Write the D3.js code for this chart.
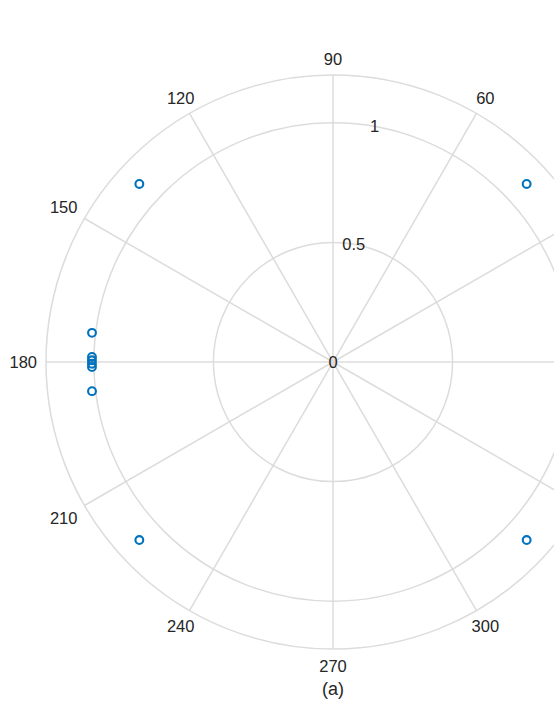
<!DOCTYPE html>
<html>
<head>
<meta charset="utf-8">
<script src="https://cdn.jsdelivr.net/npm/d3@7/dist/d3.min.js"></script>
<style>
  body { margin: 0; background: #fff; }
  text { font-family: "Liberation Sans", Arial, Helvetica, sans-serif; fill: #262626; }
</style>
</head>
<body>
<div id="polar-chart"></div>
<script>
// data points (angle in degrees, radius)
const thetaDeg = [42.6, 137.4, 173.1, 178.8, 179.6, 180.4, 181.2, 186.9, 222.6, 317.4];
const rValues = [1.1, 1.1, 1.015, 1.008, 1.008, 1.008, 1.008, 1.015, 1.1, 1.1];

// axis ticks
const angleTicks = [0, 30, 60, 90, 120, 150, 180, 210, 240, 270, 300, 330];
const rTicks = [0, 0.5, 1];
const rMax = 1.2;
const rLabelAngle = 80;
const caption = "(a)";

const width = 554;
const height = 717;
const cx = 333;
const cy = 362;
const outerR = 287;

const svg = d3
  .select("#polar-chart")
  .append("svg")
  .attr("width", width)
  .attr("height", height);

const g = svg.append("g").attr("transform", `translate(${cx},${cy})`);

const rScale = d3.scaleLinear().domain([0, rMax]).range([0, outerR]);
const toRad = (d) => (d * Math.PI) / 180;
const px = (a, r) => Math.cos(toRad(a)) * r;
const py = (a, r) => -Math.sin(toRad(a)) * r;

const gridColor = "#dcdcdc";

// rings
g.selectAll(".ring")
  .data(rTicks.filter((d) => d > 0).concat([rMax]))
  .enter()
  .append("circle")
  .attr("class", "ring")
  .attr("r", (d) => rScale(d))
  .attr("fill", "none")
  .attr("stroke", gridColor)
  .attr("stroke-width", 1.5);

// spokes
g.selectAll(".spoke")
  .data(angleTicks)
  .enter()
  .append("line")
  .attr("class", "spoke")
  .attr("x1", 0)
  .attr("y1", 0)
  .attr("x2", (d) => px(d, outerR))
  .attr("y2", (d) => py(d, outerR))
  .attr("stroke", gridColor)
  .attr("stroke-width", 1.5);

// angle labels, pushed out so the text box clears the circle
const fontSize = 16.5;
g.selectAll(".theta-label")
  .data(angleTicks)
  .enter()
  .append("text")
  .attr("class", "theta-label")
  .attr("font-size", fontSize)
  .attr("text-anchor", "middle")
  .attr("dominant-baseline", "central")
  .text((d) => d)
  .each(function (d) {
    const w = this.getComputedTextLength() / 2;
    const h = 7.5;
    const c = Math.abs(Math.cos(toRad(d)));
    const s = Math.abs(Math.sin(toRad(d)));
    const ext = Math.min(c > 1e-6 ? w / c : Infinity, s > 1e-6 ? h / s : Infinity);
    const r = outerR + 9 + ext;
    d3.select(this).attr("x", px(d, r)).attr("y", py(d, r));
    // the figure is cropped on the right; labels past the edge are not shown
    if (cx + px(d, r) - w > width) d3.select(this).remove();
  });

// radius labels
g.selectAll(".r-label")
  .data(rTicks)
  .enter()
  .append("text")
  .attr("class", "r-label")
  .attr("font-size", fontSize)
  .attr("text-anchor", "middle")
  .attr("dominant-baseline", "central")
  .attr("x", (d) => px(rLabelAngle, rScale(d)))
  .attr("y", (d) => py(rLabelAngle, rScale(d)))
  .text((d) => d);

// data markers
const points = thetaDeg.map((t, i) => ({ t, r: rValues[i] }));
g.selectAll(".pt")
  .data(points)
  .enter()
  .append("circle")
  .attr("class", "pt")
  .attr("cx", (d) => px(d.t, rScale(d.r)))
  .attr("cy", (d) => py(d.t, rScale(d.r)))
  .attr("r", 3.9)
  .attr("fill", "none")
  .attr("stroke", "#0072BD")
  .attr("stroke-width", 2.1);

// caption
svg
  .append("text")
  .attr("x", cx)
  .attr("y", 689)
  .attr("font-size", 18)
  .attr("text-anchor", "middle")
  .attr("dominant-baseline", "central")
  .text(caption);
</script>
</body>
</html>
